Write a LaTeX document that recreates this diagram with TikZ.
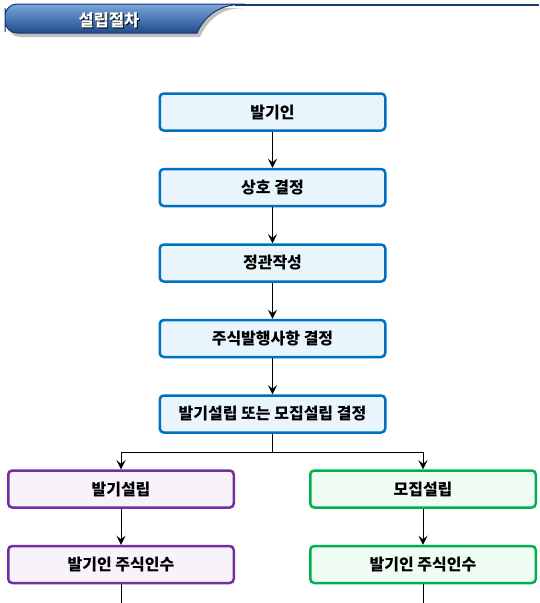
\documentclass[tikz,border=0pt]{standalone}
\usepackage{fontspec}
\newfontfamily\krfont{Noto Sans CJK KR}
\usepackage{tikz}
\usetikzlibrary{arrows,arrows.meta,positioning}
\definecolor{stepblue}{HTML}{0070C0}
\definecolor{stepbluefill}{HTML}{E9F5FD}
\definecolor{steppurple}{HTML}{7030A0}
\definecolor{steppurplefill}{HTML}{F8F3FB}
\definecolor{stepgreen}{HTML}{00B050}
\definecolor{stepgreenfill}{HTML}{EEFCF3}
\definecolor{tabtop}{HTML}{7AA6DA}
\definecolor{tabbottom}{HTML}{1E4C8E}
\definecolor{tabline}{HTML}{163A6E}
\tikzstyle{box}=[rectangle, rounded corners=4pt, line width=2.5pt, minimum width=225.5pt, minimum height=37pt, inner sep=0pt, font=\krfont\bfseries\fontsize{16}{18}\selectfont]
\tikzstyle{bbox}=[box, draw=stepblue, fill=stepbluefill]
\tikzstyle{pbox}=[box, draw=steppurple, fill=steppurplefill]
\tikzstyle{gbox}=[box, draw=stepgreen, fill=stepgreenfill]

\begin{document}
\begin{tikzpicture}[x=1pt, y=-1pt, ->, >={Stealth[length=9pt,width=9pt,inset=3.5pt]}, line width=1pt, node distance=36pt]
\useasboundingbox (0,0) rectangle (539,603);
%
  % header tab
  \fill[black, opacity=0.25] (8,24) [rounded corners=12pt] -- (8,8) -- (250,8) [sharp corners] .. controls (222,9) and (208,19) .. (200,37) [rounded corners=12pt] -- (8,37) -- (8,24) -- cycle;
  \draw[tabline, line width=2pt, -] (235,4.5) -- (539,4.5);
  \draw[draw=tabline, line width=1pt, top color=tabtop, bottom color=tabbottom, -] (5,20) [rounded corners=12pt] -- (5,4) -- (252,4) [sharp corners] .. controls (220,5) and (205,15) .. (197,33) [rounded corners=12pt] -- (5,33) -- (5,20) -- cycle;
  \node[text=black, font=\krfont\bfseries\fontsize{16.5}{18}\selectfont] at (110,21) {설립절차};
  \node[text=white, font=\krfont\bfseries\fontsize{16.5}{18}\selectfont] (title) at (109,20) {설립절차};
%
  \node[bbox] (bal) at (272.5,112) {발기인};
  \node[bbox] (sangho) [below=of bal] {상호 결정};
  \node[bbox] (jeong) [below=of sangho] {정관작성};
  \node[bbox] (jusik) [below=of jeong] {주식발행사항 결정};
  \node[bbox] (gyeol) [below=of jusik] {발기설립 또는 모집설립 결정};
  \node[pbox] (balseol) at (121,489) {발기설립};
  \node[pbox] (balin) [below=of balseol] {발기인 주식인수};
  \node[gbox] (moseol) at (423,489) {모집설립};
  \node[gbox] (moin) [below=of moseol] {발기인 주식인수};
  \coordinate (fork) at (272.5,452);
  \coordinate (lend) at (121,603);
  \coordinate (rend) at (423,603);
%
  \path[]
  (bal) edge (sangho)
  (sangho) edge (jeong)
  (jeong) edge (jusik)
  (jusik) edge (gyeol)
  (balseol) edge (balin)
  (moseol) edge (moin);
  \draw[-] (gyeol) -- (fork);
  \draw (fork) -| (balseol);
  \draw (fork) -| (moseol);
  \draw[-] (balin) -- (lend);
  \draw[-] (moin) -- (rend);
%
\end{tikzpicture}
\end{document}
